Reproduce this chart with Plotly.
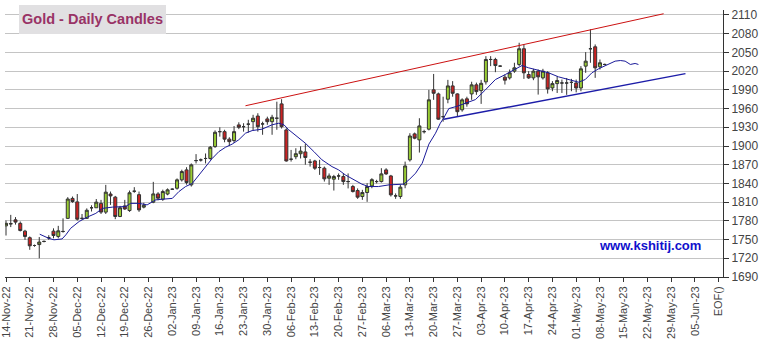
import plotly.graph_objects as go

# ---- data ----
# trading-day index counted in weekdays from 14-Nov-22 (index 30 = 26-Dec-22 has no candle)
opens = [1772,1775,1781.6,1776,1763.5,1753,1740.5,1742,1747,1753,1763.5,1755,1763,1784,1816,1810.4,1784,1784,1801,1801,
         1808,1794,1823,1818,1787,1804,1796.5,1827.5,1822,1802,None,1809.9,1823.2,1814.7,1823,1830.7,1832.3,1845.7,1861.7,1837.7,
         1876.6,1877.7,1880,1880,1899,1923,1923,1911,1908.7,1933.8,1931,1935,1939,1948,1935.4,1943.4,1939,1944.5,1967.5,1925.8,
         1878.8,1882.8,1887.6,1890.5,1874,1876,1865.5,1864.4,1848.4,1846.8,1852,1851,1843,1835,1828.6,1819,1825.4,1836,1843,1843,
         1861.7,1852,1820,1819,1837.7,1877.8,1919.4,1909.8,1923,1927,1990,1983.5,1947,1975,1996.3,1983.5,1958,1975.6,1983.5,1998,
         1988.8,2002.8,2038.7,2038.7,2028,2010.3,2009.2,2020,2030.7,2055.9,2014.6,2009.2,2020,2009.2,2017.3,1993.1,2000,2001,2001,2002,
         2001,1993,2028,2055.9,2059,2027,2030.7]
highs = [1780.5,1789.6,1786,1779,1765.6,1755,1742,1754,1748.5,1757,1768,1772,1784,1818,1819,1823,1791,1800,1805,1815,
         1813.6,1837.7,1827,1820,1804,1813.6,1828.6,1834,1827,1809,None,1842.5,1826,1830,1832,1832,1848,1862,1866,1872,
         1887,1880,1888,1900,1925,1930,1926,1914,1932,1938,1936.5,1942,1950,1952.5,1939,1947,1950,1971,1975,1928.5,
         1893.7,1896.4,1899.5,1904,1879,1877.8,1877.8,1867,1856,1853.7,1856,1856,1856,1837.7,1832,1829.7,1840.4,1848.4,1845.8,1864.4,
         1864.4,1853.7,1824,1837.7,1875,1920.5,1921.5,1944.5,1926,1990,2015.5,1985.6,1979,2006,2004,1984.5,1976.5,1979,2003,2001.6,
         2006,2044,2044,2041.4,2029,2014.6,2022.6,2033.4,2065.5,2062.8,2020,2023.7,2022.6,2023.7,2020,2004,2012,2006.5,2009,2007.6,
         2006.5,2028,2050.5,2087,2062.8,2038.7,2032]
lows = [1756.5,1770,1774,1763,1749.6,1733.6,1738.5,1720,1745.5,1749.5,1752,1752,1761,1783,1809,1780.5,1782,1783,1795,1801,
        1791,1791,1805.6,1782.7,1786,1797.6,1794.4,1825,1794.4,1800,None,1808.3,1813,1812,1821,1829.5,1830,1843,1838,1835,
        1872,1875,1872,1878,1897,1915,1906,1900,1905,1927,1923,1921.5,1925,1923,1918,1934,1918,1926,1928,1875,
        1875,1878.8,1880,1870,1867,1861.7,1853.7,1843,1837.7,1828.6,1845.8,1837.7,1832,1825.4,1815.3,1813.7,1810.5,1832.3,1840,1841.4,
        1853.7,1819,1815.3,1815.3,1832.3,1875,1910.8,1889.5,1920,1925,1974,1942,1939,1968.5,1979,1947,1955,1963,1974,1982,
        1967.5,1998.5,2028,2018.3,2027,1998.5,2006.5,2017.3,2028,2007.6,2007.6,2005.5,1982.4,2006.5,1984,1987.8,1985,1985,1982,1987.8,
        1986,1987.8,2017.3,2033.4,2009.2,2022.6,2029.5]
closes = [1776,1775.5,1778,1764.5,1755,1740,1740.5,1746,1747,1753,1756.5,1764,1763,1815,1811,1782.7,1784,1797,1801,1810,
          1794,1826,1820,1787,1801,1799,1825,1827.5,1797.6,1805,None,1823.2,1816.3,1827,1829.7,1830.7,1845.7,1859,1841.4,1869.7,
          1876.6,1877.7,1880,1898,1922,1923,1911,1907,1923,1930,1931,1935,1944.5,1931,1935.4,1939,1946,1944.5,1931,1876,
          1878.8,1887.6,1891.8,1881.6,1874,1864.4,1865.5,1847.3,1852,1851,1852,1843,1843,1827,1818,1825.4,1835,1846,1843,1855.3,
          1855.3,1821.7,1820,1834,1868,1916,1912.5,1932.2,1923,1974,1984.5,1943,1947,1996.3,1984.5,1955,1974,1967.5,1998,1987.2,
          2000.5,2038.7,2038.7,2029,2028,2005.5,2017.3,2025.3,2055.9,2017.3,2009.2,2020,2010.8,2020,1991.5,2000,2005,2001,2001,2002,
          1993,2023.7,2036,2055.9,2025.3,2033.4,2030.7]

# displaced moving average (day index, value)
ma_idx = [7.1,9.0,10.1,11.8,12.6,13.6,15.4,17.1,18.9,20.3,22.4,25.2,26.2,28.0,29.7,31.5,32.9,35.0,36.4,37.8,39.2,40.6,42.0,43.4,
          44.8,46.2,47.6,49.0,50.4,51.8,53.9,56.0,57.4,58.5,59.5,61.3,63.0,64.8,66.5,68.6,70.0,71.4,73.2,74.9,76.3,78.4,80.6,82.7,
          83.7,84.8,86.2,87.6,89.0,90.4,91.4,92.1,93.2,94.9,96.7,98.8,100.9,103.0,105.1,107.2,108.6,110.0,112.1,114.2,116.3,118.4,
          120.5,121.9,123.3,124.7,126.8,128.2,129.3,130.3,131.4,132.4,133.1]
ma_val = [1758.6,1752,1749.6,1751,1757.6,1768,1779,1786,1792,1800,1802,1803,1808,1808,1805.6,1813.6,1814.7,1816,1827,1835,1840,
          1853.7,1867,1880,1891,1898,1903,1910,1920.5,1924.7,1927,1934,1936.5,1934,1926,1915,1904.5,1891,1877.8,1867,1861.7,1853.7,
          1845.7,1838.8,1835,1835,1837.7,1837.7,1838.8,1845.7,1856.4,1872.4,1903,1920.5,1936.5,1944.5,1960,1963.6,1969,1974.4,1990,
          2006.5,2014.6,2022.6,2029,2025.3,2021.6,2017.3,2010.8,2006.5,2002.3,2006.5,2017.3,2023.7,2030.7,2036,2037,2036,2030.7,
          2032.3,2030.7]

# trend lines (day index, price)
res_idx, res_val = [50.4, 138.4], [1964.5, 2112]
sup_idx, sup_val = [92.1, 143.0], [1942.7, 2016]

tick_labels = ["14-Nov-22","21-Nov-22","28-Nov-22","05-Dec-22","12-Dec-22","19-Dec-22","26-Dec-22","02-Jan-23",
               "09-Jan-23","16-Jan-23","23-Jan-23","30-Jan-23","06-Feb-23","13-Feb-23","20-Feb-23","27-Feb-23",
               "06-Mar-23","13-Mar-23","20-Mar-23","27-Mar-23","03-Apr-23","10-Apr-23","17-Apr-23","24-Apr-23",
               "01-May-23","08-May-23","15-May-23","22-May-23","29-May-23","05-Jun-23","EOF()"]
y_ticks = list(range(1690, 2111, 30))

# ---- figure ----
x_all = list(range(len(opens)))
keep = [i for i in x_all if opens[i] is not None]

fig = go.Figure()
fig.add_trace(go.Candlestick(
    x=keep,
    open=[opens[i] for i in keep], high=[highs[i] for i in keep],
    low=[lows[i] for i in keep], close=[closes[i] for i in keep],
    increasing=dict(fillcolor="#99cc33", line=dict(color="#333333", width=1)),
    decreasing=dict(fillcolor="#cc2222", line=dict(color="#333333", width=1)),
    whiskerwidth=0, showlegend=False, hoverinfo="skip"))

fig.add_trace(go.Scatter(x=ma_idx, y=ma_val, mode="lines",
                         line=dict(color="#1a1a99", width=1), showlegend=False, hoverinfo="skip"))
fig.add_trace(go.Scatter(x=res_idx, y=res_val, mode="lines",
                         line=dict(color="#cc1111", width=1), showlegend=False, hoverinfo="skip"))
fig.add_trace(go.Scatter(x=sup_idx, y=sup_val, mode="lines",
                         line=dict(color="#1c1ca8", width=1.5), showlegend=False, hoverinfo="skip"))

fig.update_layout(
    width=763, height=344,
    margin=dict(l=5, r=40, t=10, b=67, autoexpand=False),
    paper_bgcolor="white", plot_bgcolor="white",
    boxgap=0.1,
    font=dict(family="Liberation Sans, Arial, sans-serif", color="#444444"),
    xaxis=dict(
        range=[-0.21, 150.9], rangeslider=dict(visible=False), automargin=False,
        tickmode="array", tickvals=[5 * k for k in range(len(tick_labels))], ticktext=tick_labels,
        tickangle=-90, tickfont=dict(size=11, color="#444444"), ticklabeloverflow="allow",
        showgrid=False, zeroline=False, showline=True, linecolor="#333333", linewidth=1,
        ticks="outside", ticklen=4, tickcolor="#333333"),
    yaxis=dict(
        range=[1690, 2118], side="right", automargin=False,
        tickmode="array", tickvals=y_ticks, ticktext=[str(v) for v in y_ticks],
        tickfont=dict(size=12, color="#444444"),
        showgrid=True, gridcolor="#c4c4c4", gridwidth=1, zeroline=False,
        showline=True, linecolor="#333333", linewidth=1,
        ticks="outside", ticklen=5, tickcolor="#333333"),
    shapes=[dict(type="rect", xref="paper", yref="paper",
                 x0=(19 - 5) / 718, x1=(166 - 5) / 718, y0=(277 - 34) / 267, y1=(277 - 5) / 267,
                 fillcolor="#e1e0e2", line=dict(width=0), layer="above")],
    annotations=[
        dict(text="<b>Gold - Daily Candles</b>", xref="paper", yref="paper",
             x=(92.5 - 5) / 718, y=(277 - 19.5) / 267, xanchor="center", yanchor="middle",
             showarrow=False, font=dict(size=14.5, color="#993366", family="Liberation Sans, Arial, sans-serif")),
        dict(text="<b>www.kshitij.com</b>", xref="paper", yref="paper",
             x=(650 - 5) / 718, y=(277 - 246) / 267, xanchor="center", yanchor="middle",
             showarrow=False, font=dict(size=13, color="#1010cc", family="Liberation Sans, Arial, sans-serif")),
    ],
)

fig.write_html("out.html")
